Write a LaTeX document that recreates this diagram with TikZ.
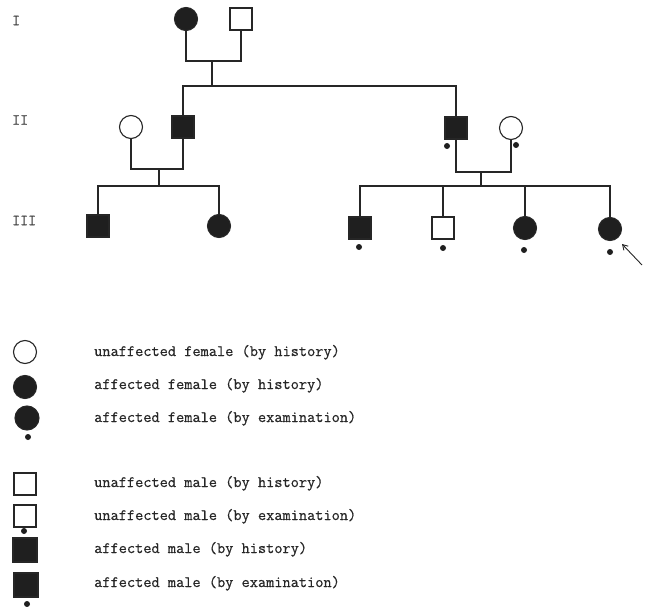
\documentclass[tikz,border=0pt]{standalone}
\usepackage{fontspec}
\usetikzlibrary{arrows.meta}
\newfontfamily\keyfont[FakeBold=0.6]{Latin Modern Mono}
\begin{document}
\begin{tikzpicture}[x=1pt,y=-1pt,
  link/.style={line width=1.1pt, draw=black!85},
  fem/.style={circle, draw=black!85, line width=1.1pt, minimum size=23pt, inner sep=0pt},
  femA/.style={fem, fill=black!88},
  mal/.style={rectangle, draw=black!85, line width=1.1pt, minimum size=22pt, inner sep=0pt},
  malA/.style={mal, fill=black!88},
  exdot/.style={circle, fill=black!88, draw=none, minimum size=6pt, inner sep=0pt},
  gen/.style={anchor=west, inner sep=0pt, text=black!75, font=\keyfont\fontsize{15.5}{18}\selectfont},
  key/.style={anchor=base west, inner sep=0pt, text=black!85, font=\keyfont\fontsize{15.9}{18}\selectfont}]
\useasboundingbox (0,0) rectangle (653,607);

% generation labels
\node[gen] (gI)   at (12,20.5) {I};
\node[gen] (gII)  at (12,120) {II};
\node[gen] (gIII) at (12,220.5) {III};

% generation I
\node[femA] (I1) at (186,19) {};
\node[mal]  (I2) at (241,19) {};
\coordinate (m1) at (212,61);
\coordinate (s1) at (212,86);

% generation II
\node[fem]  (II1) at (131,127) {};
\node[malA] (II2) at (183,127) {};
\node[malA] (II3) at (456,128) {};
\node[fem]  (II4) at (511,128) {};
\node[exdot] (dII3) at (447,146) {};
\node[exdot] (dII4) at (516,145) {};
\coordinate (m2) at (159,169);
\coordinate (s2) at (159,186);
\coordinate (m3) at (481,172);
\coordinate (s3) at (481,186);

% generation III
\node[malA] (III1) at (98,226) {};
\node[femA] (III2) at (219,226) {};
\node[malA] (III3) at (360,228) {};
\node[mal]  (III4) at (443,228) {};
\node[femA] (III5) at (525,228) {};
\node[femA] (III6) at (610,229) {};
\node[exdot] (dIII3) at (359,247) {};
\node[exdot] (dIII4) at (443,248) {};
\node[exdot] (dIII5) at (524,250) {};
\node[exdot] (dIII6) at (610,252) {};

% marriages, descents and sibships
\draw[link] (I1.south) |- (m1) -| (I2.south);
\draw[link] (m1) -- (s1);
\draw[link] (II2.north) |- (s1) -| (II3.north);

\draw[link] (II1.south) |- (m2) -| (II2.south);
\draw[link] (m2) -- (s2);
\draw[link] (III1.north) |- (s2) -| (III2.north);

\draw[link] (II3.south) |- (m3) -| (II4.south);
\draw[link] (m3) -- (s3);
\draw[link] (III3.north) |- (s3) -| (III6.north);
\draw[link] (III4.north) -- (III4.north |- s3);
\draw[link] (III5.north) -- (III5.north |- s3);

% proband arrow
\coordinate (pbtail) at (642,265);
\coordinate (pbhead) at (622,244);
\draw[link, line width=0.9pt, -{Straight Barb[length=5pt,width=6pt]}] (pbtail) -- (pbhead);

% key
\node[fem]  (k1) at (25,352) {};
\node[femA] (k2) at (25,387) {};
\node[femA, minimum size=24pt] (k3) at (27,418) {};
\node[exdot] (k3d) at (28,437) {};
\node[mal]  (k4) at (25,484) {};
\node[mal]  (k5) at (25,516) {};
\node[exdot] (k5d) at (24,531) {};
\node[malA, minimum size=24pt] (k6) at (25,550) {};
\node[malA, minimum size=24pt] (k7) at (26,585) {};
\node[exdot] (k7d) at (27,604) {};

\node[key] (t1) at (94,356) {unaffected female (by history)};
\node[key] (t2) at (94,389) {affected female (by history)};
\node[key] (t3) at (94,422) {affected female (by examination)};
\node[key] (t4) at (94,487) {unaffected male (by history)};
\node[key] (t5) at (94,520) {unaffected male (by examination)};
\node[key] (t6) at (94,553) {affected male (by history)};
\node[key] (t7) at (94,587) {affected male (by examination)};
\end{tikzpicture}
\end{document}
